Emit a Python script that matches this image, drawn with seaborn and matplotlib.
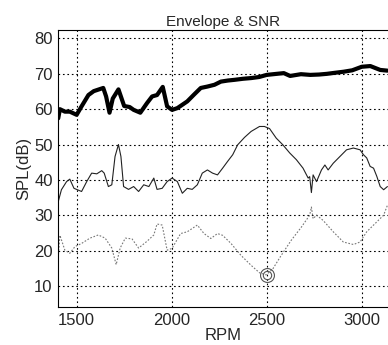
import numpy as np
import pandas as pd
import matplotlib
matplotlib.use("Agg")
import matplotlib.pyplot as plt
import seaborn as sns

# Envelope (thick black)
env_rpm = [1403, 1412, 1438, 1464, 1500, 1526, 1562, 1590, 1640, 1655, 1673, 1690, 1720,
           1750, 1779, 1800, 1835, 1870, 1897, 1923, 1953, 1976, 2002, 2030, 2082, 2117,
           2153, 2188, 2225, 2259, 2295, 2330, 2375, 2418, 2460, 2500, 2553, 2590, 2623,
           2680, 2729, 2775, 2817, 2860, 2905, 2950, 3000, 3045, 3097, 3135]
env_db = [57.4, 60.0, 59.3, 59.3, 58.4, 60.8, 64.0, 65.1, 66.0, 63.6, 59.0, 63.0, 65.6,
          60.9, 60.6, 59.8, 59.0, 61.7, 63.6, 64.0, 66.3, 60.8, 59.8, 60.3, 62.2, 64.1,
          66.0, 66.4, 66.9, 67.8, 68.1, 68.3, 68.6, 68.8, 69.1, 69.7, 70.0, 70.2, 69.4,
          69.9, 69.7, 69.8, 70.0, 70.3, 70.6, 71.0, 72.0, 72.2, 71.1, 70.9]

# Signal (thin solid)
sig_rpm = [1403, 1420, 1447, 1464, 1486, 1526, 1553, 1579, 1606, 1632, 1645, 1667, 1685,
           1702, 1720, 1733, 1747, 1773, 1800, 1826, 1853, 1880, 1906, 1923, 1950, 1976,
           2002, 2030, 2056, 2082, 2108, 2135, 2161, 2188, 2215, 2241, 2268, 2294, 2321,
           2347, 2383, 2418, 2462, 2488, 2515, 2550, 2585, 2621, 2656, 2691, 2718, 2726,
           2735, 2744, 2762, 2788, 2806, 2823, 2850, 2885, 2920, 2956, 2991, 3009, 3026,
           3044, 3062, 3079, 3097, 3115, 3135]
sig_db = [33.8, 37.2, 39.5, 40.2, 37.6, 36.7, 39.5, 41.9, 41.7, 42.6, 41.9, 38.1, 38.6,
          46.6, 50.0, 46.6, 38.1, 37.3, 38.1, 36.7, 38.6, 38.1, 40.5, 37.3, 37.6, 39.5,
          40.5, 39.5, 36.2, 37.6, 37.3, 38.6, 41.9, 42.8, 41.9, 41.4, 43.3, 45.2, 47.1,
          49.9, 52.0, 53.7, 55.1, 55.1, 54.5, 51.8, 49.9, 47.6, 45.7, 43.3, 40.5, 40.9,
          36.4, 41.4, 39.5, 42.8, 44.2, 42.8, 44.7, 46.6, 48.5, 49.0, 48.5, 47.1, 46.2,
          43.8, 43.3, 41.0, 38.1, 37.2, 38.1]

# SNR (dotted grey)
snr_rpm = [1403, 1412, 1438, 1464, 1491, 1526, 1570, 1614, 1650, 1685, 1708, 1729, 1756,
           1791, 1826, 1870, 1906, 1923, 1950, 1976, 2002, 2047, 2082, 2135, 2170, 2206,
           2241, 2268, 2312, 2365, 2418, 2462, 2497, 2532, 2576, 2629, 2682, 2726, 2735,
           2744, 2762, 2797, 2850, 2903, 2956, 2991, 3026, 3079, 3115, 3135]
snr_db = [18.0, 24.3, 20.1, 19.2, 21.1, 22.0, 23.5, 24.4, 23.5, 20.7, 16.0, 20.7, 23.5,
          23.3, 20.7, 22.6, 24.4, 27.5, 27.2, 20.1, 20.6, 24.8, 25.3, 27.2, 24.8, 23.4,
          24.8, 24.3, 22.0, 18.6, 15.8, 13.7, 13.1, 14.8, 18.6, 22.9, 26.6, 30.0, 32.3,
          29.0, 30.0, 28.5, 25.3, 22.4, 21.7, 22.4, 25.3, 28.1, 30.0, 32.8]

mark_rpm = [2500]
mark_db = [13.2]

sns.set_style("white")
plt.rcParams['font.family'] = ['Liberation Sans', 'DejaVu Sans']

fig = plt.figure(figsize=(3.88, 3.45), dpi=100)
ax = fig.add_axes([0.150, 0.109, 0.850, 0.804])

sns.lineplot(x=env_rpm, y=env_db, ax=ax, color="black", linewidth=3.0)
sns.lineplot(x=sig_rpm, y=sig_db, ax=ax, color="#222222", linewidth=0.8)
sns.lineplot(x=snr_rpm, y=snr_db, ax=ax, color="#777777", linewidth=0.8, linestyle=(0, (1.5, 1.5)))
ax.plot(mark_rpm, mark_db, marker="o", markersize=10, markerfacecolor="none",
        markeredgecolor="#555555", markeredgewidth=0.8, linestyle="none")
ax.plot(mark_rpm, mark_db, marker="o", markersize=6, markerfacecolor="none",
        markeredgecolor="#555555", markeredgewidth=0.8, linestyle="none")

ax.set_xlim(1403, 3138)
ax.set_ylim(3.9, 82.4)
ax.set_xticks([1500, 2000, 2500, 3000])
ax.set_yticks([10, 20, 30, 40, 50, 60, 70, 80])
ax.grid(True, color="black", linestyle=(0, (1.5, 2.5)), linewidth=0.8)
ax.tick_params(direction="in", labelsize=12, length=3, pad=4)
for s in ax.spines.values():
    s.set_color("black")
    s.set_linewidth(0.8)
ax.spines["right"].set_visible(False)

ax.set_title("Envelope & SNR", fontsize=11, pad=3)
ax.set_xlabel("RPM", fontsize=12, labelpad=0)
ax.set_ylabel("SPL(dB)", fontsize=12, labelpad=2)

fig.savefig("out.png", dpi=100)
